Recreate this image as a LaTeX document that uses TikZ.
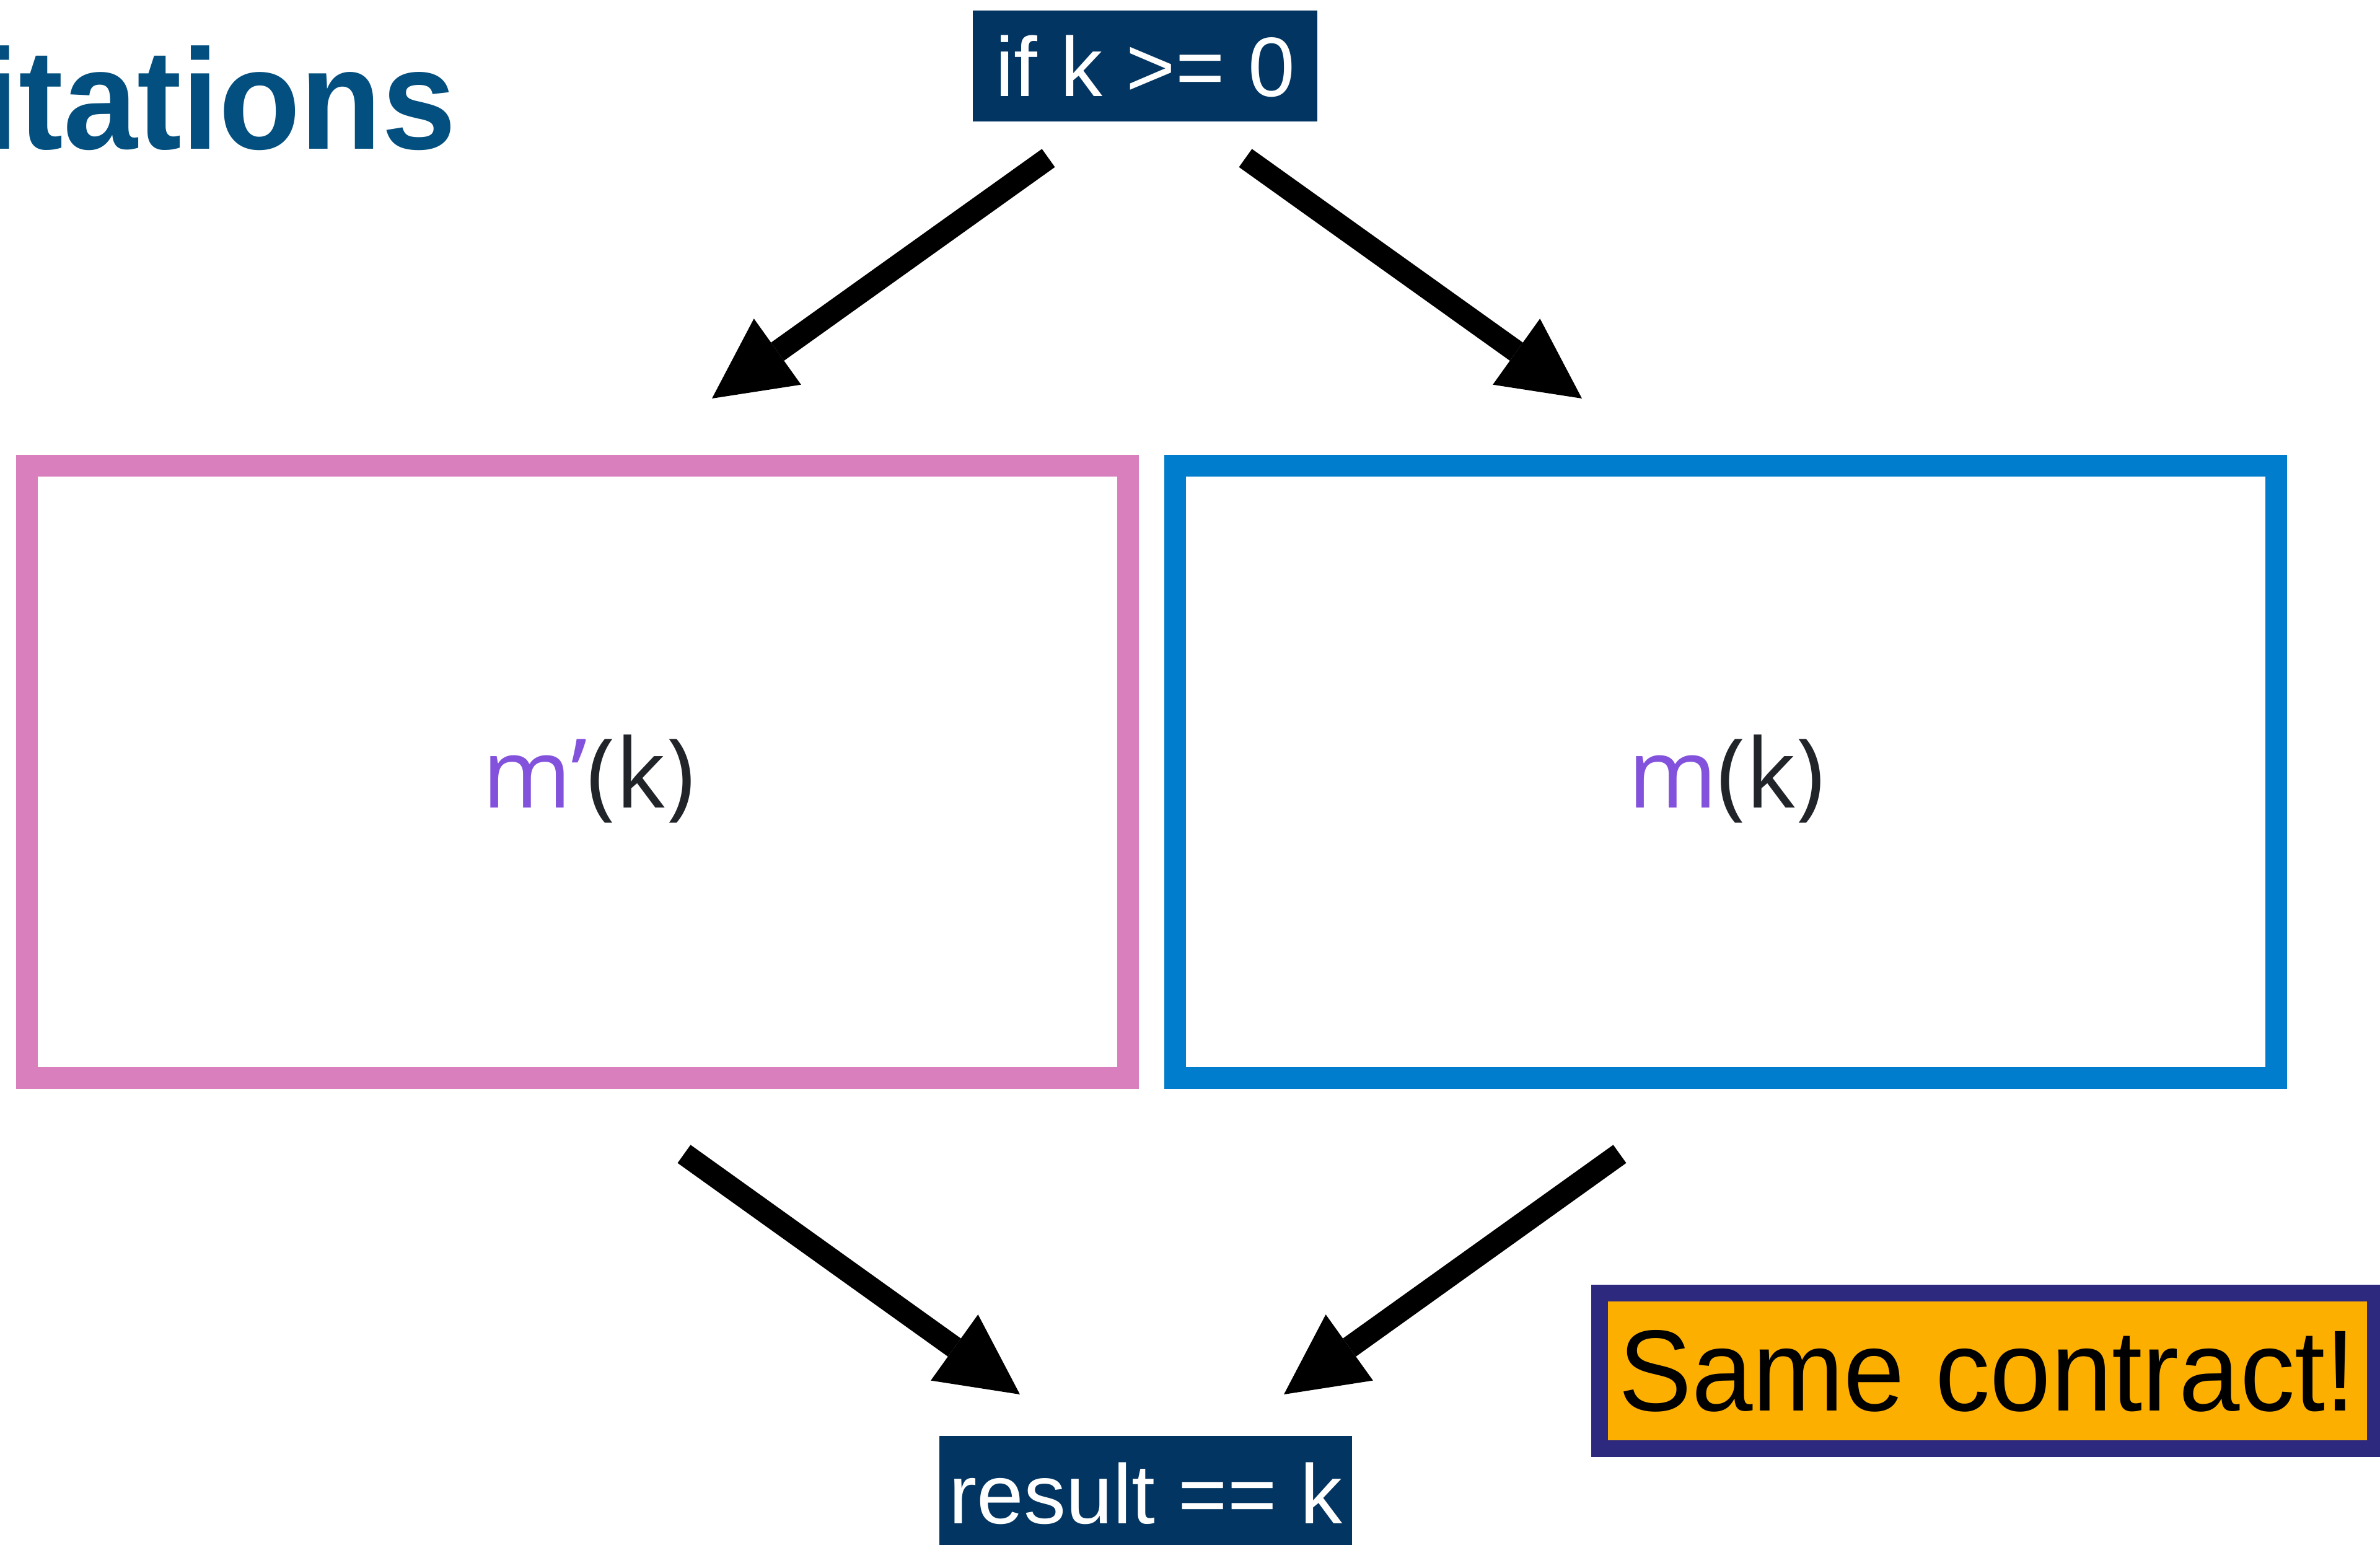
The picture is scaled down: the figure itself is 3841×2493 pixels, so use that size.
\documentclass[tikz,border=0pt]{standalone}
\usepackage{fontspec}
\usepackage{graphicx}
\setmainfont{Liberation Sans}
\newfontfamily\labelfont{Open Sans}
\usetikzlibrary{arrows.meta}
\definecolor{titleblue}{RGB}{3,79,127}
\definecolor{codenavy}{RGB}{2,53,97}
\definecolor{boxpink}{RGB}{218,127,189}
\definecolor{boxblue}{RGB}{0,125,204}
\definecolor{mpurple}{RGB}{131,82,220}
\definecolor{darktext}{RGB}{33,36,40}
\definecolor{contractorange}{RGB}{253,175,0}
\definecolor{contractnavy}{RGB}{45,41,127}
\begin{document}
\begin{tikzpicture}[x=0.1mm,y=-0.1mm,
  codebox/.style={fill=codenavy, text=white, inner sep=0pt,
    font=\fontsize{38.7pt}{46pt}\selectfont},
  framebox/.style={draw, line width=3.5mm, inner sep=0pt,
    minimum width=177.7mm, minimum height=98.85mm},
  lbl/.style={inner sep=0pt, text=darktext,
    font=\labelfont\fontsize{44.1pt}{52pt}\selectfont},
  flow/.style={line width=3.6mm,
    -{Triangle[length=13mm 0 0, width=13.1mm 0 0, line width=0pt]}},
  notebox/.style={draw=contractnavy, fill=contractorange, line width=2.7mm,
    inner sep=0pt, minimum width=125.2mm, minimum height=25.1mm,
    font=\fontsize{53pt}{62pt}\selectfont}
]
\useasboundingbox (0,0) rectangle (3841,2493);
\clip (0,0) rectangle (3841,2493);
\fill[white] (0,0) rectangle (3841,2493);

% title (cut off at the left edge)
\node[anchor=base west, inner sep=0pt, text=titleblue,
  font=\bfseries\fontsize{65.5pt}{72pt}\selectfont] (title) at (-30,241)
  {\scalebox{0.935}[1]{itations}};

% condition and result boxes
\node[codebox, minimum width=55.6mm, minimum height=17.9mm] (cond) at (1848,106.5) {if k >= 0};
\node[codebox, minimum width=66.6mm, minimum height=18.6mm] (result) at (1849,2410) {result == k};

% the two method boxes
\node[framebox, draw=boxpink] (left) at (932,1245.75) {};
\node[framebox, draw=boxblue] (right) at (2784.5,1245.75) {};
\node[lbl, anchor=base] (mprime) at (950,1304) {\textcolor{mpurple}{m’}(k)};
\node[lbl, anchor=base] (mplain) at (2786,1304) {\textcolor{mpurple}{m}(k)};

% note
\node[notebox] (same) at (3207,2212) {\scalebox{0.95}[1]{Same contract!}};

% arrow ends
\coordinate (a1s) at (1692,255);  \coordinate (a1e) at (1149,643);
\coordinate (a2s) at (2010,255);  \coordinate (a2e) at (2553,643);
\coordinate (a3s) at (1104,1862); \coordinate (a3e) at (1646,2250);
\coordinate (a4s) at (2614,1862); \coordinate (a4e) at (2072,2250);

\draw[flow] (a1s) -- (a1e);
\draw[flow] (a2s) -- (a2e);
\draw[flow] (a3s) -- (a3e);
\draw[flow] (a4s) -- (a4e);
\end{tikzpicture}
\end{document}
